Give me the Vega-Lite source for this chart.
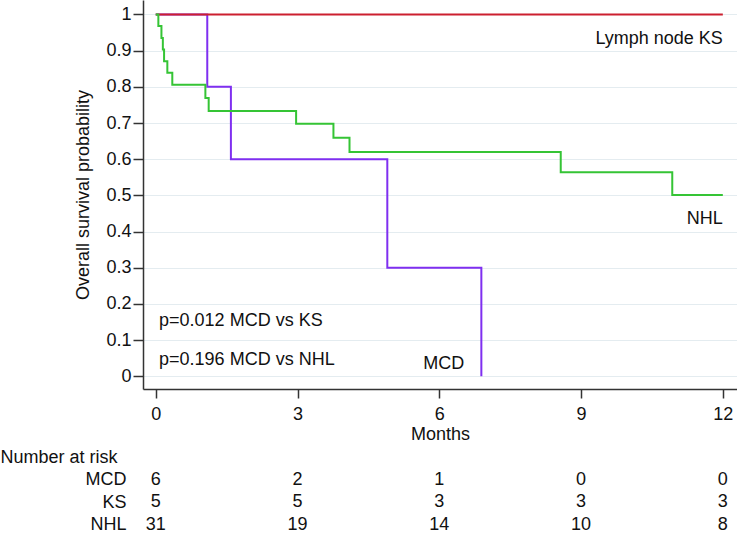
{
  "$schema": "https://vega.github.io/schema/vega-lite/v6.json",
  "padding": 0,
  "background": "white",
  "spacing": 3,
  "config": {
    "font": "Liberation Sans",
    "view": {"stroke": null},
    "text": {"font": "Liberation Sans"}
  },
  "datasets": {
    "curves": [
      {"group": "MCD", "month": 0, "survival": 1},
      {"group": "MCD", "month": 1.09, "survival": 0.8},
      {"group": "MCD", "month": 1.59, "survival": 0.6},
      {"group": "MCD", "month": 4.9, "survival": 0.3},
      {"group": "MCD", "month": 6.89, "survival": 0},
      {"group": "KS", "month": 0, "survival": 1},
      {"group": "KS", "month": 12, "survival": 1},
      {"group": "NHL", "month": 0, "survival": 1},
      {"group": "NHL", "month": 0.055, "survival": 0.968},
      {"group": "NHL", "month": 0.12, "survival": 0.935},
      {"group": "NHL", "month": 0.15, "survival": 0.903},
      {"group": "NHL", "month": 0.176, "survival": 0.871},
      {"group": "NHL", "month": 0.245, "survival": 0.839},
      {"group": "NHL", "month": 0.35, "survival": 0.806},
      {"group": "NHL", "month": 1.05, "survival": 0.769},
      {"group": "NHL", "month": 1.12, "survival": 0.733},
      {"group": "NHL", "month": 2.97, "survival": 0.698},
      {"group": "NHL", "month": 3.76, "survival": 0.659},
      {"group": "NHL", "month": 4.1, "survival": 0.62},
      {"group": "NHL", "month": 8.57, "survival": 0.564},
      {"group": "NHL", "month": 10.93, "survival": 0.501},
      {"group": "NHL", "month": 12, "survival": 0.501}
    ],
    "curveLabels": [
      {"label": "Lymph node KS", "month": 12, "survival": 0.932},
      {"label": "NHL", "month": 12, "survival": 0.435},
      {"label": "MCD", "month": 6.53, "survival": 0.034}
    ],
    "pvalues": [
      {"label": "p=0.012 MCD vs KS", "month": 0.07, "survival": 0.152},
      {"label": "p=0.196 MCD vs NHL", "month": 0.07, "survival": 0.044}
    ],
    "risk": [
      {"row": "MCD", "month": 0, "n": 6},
      {"row": "MCD", "month": 3, "n": 2},
      {"row": "MCD", "month": 6, "n": 1},
      {"row": "MCD", "month": 9, "n": 0},
      {"row": "MCD", "month": 12, "n": 0},
      {"row": "KS", "month": 0, "n": 5},
      {"row": "KS", "month": 3, "n": 5},
      {"row": "KS", "month": 6, "n": 3},
      {"row": "KS", "month": 9, "n": 3},
      {"row": "KS", "month": 12, "n": 3},
      {"row": "NHL", "month": 0, "n": 31},
      {"row": "NHL", "month": 3, "n": 19},
      {"row": "NHL", "month": 6, "n": 14},
      {"row": "NHL", "month": 9, "n": 10},
      {"row": "NHL", "month": 12, "n": 8}
    ]
  },
  "vconcat": [
    {
      "width": 594,
      "height": 389,
      "encoding": {
        "x": {
          "field": "month", "type": "quantitative",
          "scale": {"domain": [-0.27, 12.3], "nice": false, "zero": false},
          "axis": {
            "values": [0, 3, 6, 9, 12], "tickSize": 9, "labelPadding": 7,
            "title": "Months", "titlePadding": 2, "grid": false,
            "domainColor": "#333333", "tickColor": "#333333", "domainWidth": 1.5, "tickWidth": 1.5,
            "labelFontSize": 18, "titleFontSize": 18, "titleFontWeight": "normal",
            "labelColor": "#111111", "titleColor": "#111111", "labelFlush": false, "labelOverlap": false
          }
        },
        "y": {
          "field": "survival", "type": "quantitative",
          "scale": {"domain": [-0.035, 1.04], "nice": false, "zero": false},
          "axis": {
            "values": [0, 0.1, 0.2, 0.3, 0.4, 0.5, 0.6, 0.7, 0.8, 0.9, 1], "format": "~g",
            "tickSize": 10, "labelPadding": 2, "title": "Overall survival probability", "titlePadding": 13,
            "grid": true, "gridColor": "#e4ecf0", "gridWidth": 1,
            "domainColor": "#333333", "tickColor": "#333333", "domainWidth": 1.5, "tickWidth": 1.5,
            "labelFontSize": 18, "titleFontSize": 18, "titleFontWeight": "normal",
            "labelColor": "#111111", "titleColor": "#111111", "labelFlush": false, "labelOverlap": false
          }
        }
      },
      "layer": [
        {
          "data": {"name": "curves"},
          "transform": [{"filter": "datum.group === 'MCD'"}],
          "mark": {"type": "line", "interpolate": "step-after", "color": "#7f2ff0", "strokeWidth": 2}
        },
        {
          "data": {"name": "curves"},
          "transform": [{"filter": "datum.group === 'KS'"}],
          "mark": {"type": "line", "interpolate": "step-after", "color": "#cc1f2f", "strokeWidth": 2}
        },
        {
          "data": {"name": "curves"},
          "transform": [{"filter": "datum.group === 'NHL'"}],
          "mark": {"type": "line", "interpolate": "step-after", "color": "#35c435", "strokeWidth": 2}
        },
        {
          "data": {"name": "curveLabels"},
          "mark": {"type": "text", "align": "right", "baseline": "middle", "fontSize": 18, "color": "#111111"},
          "encoding": {"text": {"field": "label"}}
        },
        {
          "data": {"name": "pvalues"},
          "mark": {"type": "text", "align": "left", "baseline": "middle", "fontSize": 18, "color": "#111111"},
          "encoding": {"text": {"field": "label"}}
        }
      ]
    },
    {
      "width": 594,
      "height": 90,
      "data": {"name": "risk"},
      "mark": {"type": "text", "fontSize": 18, "color": "#111111", "baseline": "middle", "align": "center"},
      "encoding": {
        "x": {
          "field": "month", "type": "quantitative",
          "scale": {"domain": [-0.27, 12.3], "nice": false, "zero": false},
          "axis": null
        },
        "y": {
          "field": "row", "type": "nominal",
          "scale": {"domain": ["Number at risk", "MCD", "KS", "NHL"], "padding": 0.5},
          "axis": {
            "title": null, "domain": false, "ticks": false, "tickSize": 0, "grid": false,
            "labelFontSize": 18, "labelColor": "#111111",
            "labelPadding": {"condition": {"test": "datum.value === 'Number at risk'", "value": 143}, "value": 17},
            "labelAlign": {"condition": {"test": "datum.value === 'Number at risk'", "value": "left"}, "value": "right"}
          }
        },
        "text": {"field": "n", "type": "quantitative"}
      }
    }
  ]
}
